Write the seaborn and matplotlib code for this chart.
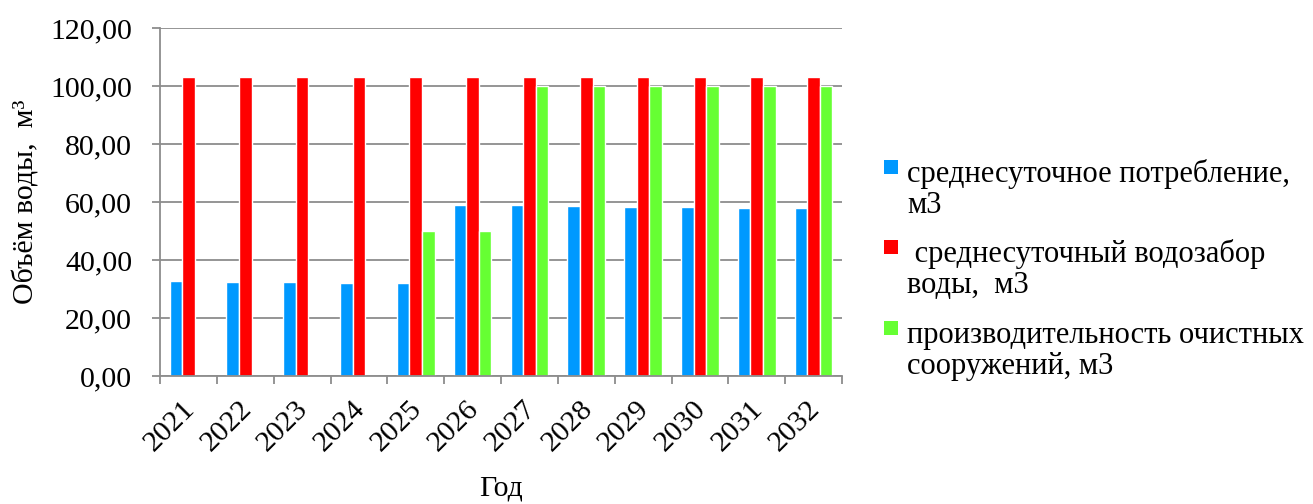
import pandas as pd
import seaborn as sns
import matplotlib.pyplot as plt
import matplotlib.transforms as mtransforms
from matplotlib.patches import Rectangle
from matplotlib.ticker import FixedLocator

# Данные
years = ["2021", "2022", "2023", "2024", "2025", "2026",
         "2027", "2028", "2029", "2030", "2031", "2032"]
consumption = [32.6, 32.4, 32.3, 32.1, 32.0, 59.0, 58.8, 58.6, 58.4, 58.3, 58.1, 58.0]
intake = [103.2] * 12
capacity = [0, 0, 0, 0, 50.0, 50.0, 100.0, 100.0, 100.0, 100.0, 100.0, 100.0]

series_names = ["среднесуточное потребление, м3",
                "среднесуточный водозабор воды, м3",
                "производительность очистных сооружений, м3"]
legend_lines = [["среднесуточное потребление,", "м3"],
                [" среднесуточный водозабор", "воды,  м3"],
                ["производительность очистных", "сооружений, м3"]]
colors = ["#0099FF", "#FF0000", "#66FF33"]

df = pd.DataFrame({
    "year": years * 3,
    "value": consumption + intake + capacity,
    "series": [series_names[0]] * 12 + [series_names[1]] * 12 + [series_names[2]] * 12,
})

sns.set_style("white")
plt.rcParams["font.family"] = ["Liberation Serif", "DejaVu Serif"]
plt.rcParams["text.color"] = "black"
plt.rcParams["axes.labelcolor"] = "black"
plt.rcParams["xtick.labelcolor"] = "black"
plt.rcParams["ytick.labelcolor"] = "black"

W, H = 1313, 504
fig = plt.figure(figsize=(W / 100, H / 100), dpi=100)
ax = fig.add_axes([160 / W, 1 - 376 / H, (842 - 160) / W, (376 - 28) / H])

sns.barplot(data=df, x="year", y="value", hue="series", palette=colors,
            width=0.66, saturation=1, ax=ax, legend=False)

ax.set_ylim(0, 120)
ax.set_xlim(-0.5, 11.5)
ax.set_yticks(range(0, 121, 20))
ax.set_yticklabels([f"{v},00" for v in range(0, 121, 20)], fontsize=21.5)
ax.yaxis.grid(True, color="#8c8c8c", linewidth=1.3)
ax.set_axisbelow(True)

for s in ["top", "right"]:
    ax.spines[s].set_visible(False)
for s in ["left", "bottom"]:
    ax.spines[s].set_color("#8c8c8c")
    ax.spines[s].set_linewidth(1.3)

ax.tick_params(axis="y", length=6, color="#8c8c8c", width=1.3, left=True, pad=14)
ax.tick_params(axis="x", which="major", length=0, pad=14)
ax.xaxis.set_minor_locator(FixedLocator([i - 0.5 for i in range(13)]))
ax.tick_params(axis="x", which="minor", length=6, color="#8c8c8c", width=1.3, bottom=True)

shift = mtransforms.ScaledTranslation(-7 / 100, 0, fig.dpi_scale_trans)
for lbl in ax.get_xticklabels():
    lbl.set_rotation(45)
    lbl.set_ha("right")
    lbl.set_rotation_mode("anchor")
    lbl.set_fontsize(21.5)
    lbl.set_transform(lbl.get_transform() + shift)

ax.set_xlabel("Год", fontsize=21.5, labelpad=14)
ax.set_ylabel("Объём воды,  м³", fontsize=21.5, labelpad=8)

# Легенда справа: квадратный маркер у первой строки подписи
base_y = [182, 262, 343]
for c, lines, by in zip(colors, legend_lines, base_y):
    fig.patches.append(Rectangle((884 / W, 1 - (by - 8) / H), 14 / W, 14 / H,
                                 transform=fig.transFigure, facecolor=c,
                                 edgecolor="none"))
    for k, line in enumerate(lines):
        fig.text(907 / W, 1 - (by + 31 * k) / H, line, fontsize=22,
                 va="baseline", ha="left", color="black")

fig.savefig("out.png", dpi=100)
